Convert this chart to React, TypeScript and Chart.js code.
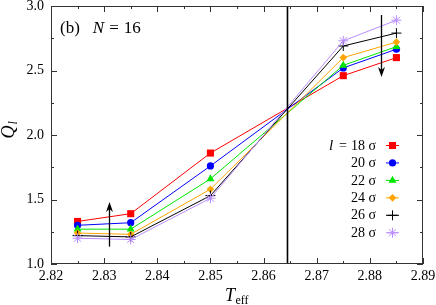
import React, { useEffect, useRef } from 'react';
import { Chart, registerables } from 'chart.js';
import { drawPoint } from 'chart.js/helpers';

Chart.register(...registerables);

// ---- data ----
const temperatures = [2.825, 2.835, 2.85, 2.875, 2.885];
const q18 = [1.33, 1.39, 1.86, 2.46, 2.60];
const q20 = [1.30, 1.32, 1.76, 2.52, 2.665];
const q22 = [1.27, 1.27, 1.66, 2.54, 2.685];
const q24 = [1.24, 1.23, 1.58, 2.60, 2.72];
const q26 = [1.22, 1.21, 1.53, 2.69, 2.79];
const q28 = [1.20, 1.19, 1.51, 2.73, 2.89];
const seriesValues = [q18, q20, q22, q24, q26, q28];
const seriesLabels = ['18 σ', '20 σ', '22 σ', '24 σ', '26 σ', '28 σ'];

const xMin = 2.82;
const xMax = 2.89;
const xStep = 0.005;
const yMin = 1.0;
const yMax = 3.0;
const yStep = 0.25;

const crossingT = 2.8645;
const arrowUp = { t: 2.831, from: 1.135, to: 1.48 };
const arrowDown = { t: 2.8821, from: 2.93, to: 2.45 };

// ---- styles ----
const seriesColors = ['#ff0000', '#0000ff', '#00e600', '#ffa500', '#000000', '#b98cff'];
const seriesPointStyles = ['rect', 'circle', 'triangle', 'rectRot', 'cross', 'star'];
const seriesPointRadius = [5, 3.6, 4.6, 3.8, 5, 5];
const SERIF = "'Liberation Serif', 'Times New Roman', Times, 'Nimbus Roman', serif";

const isMajor = (v: number, unit: number) => Math.abs(v / unit - Math.round(v / unit)) < 1e-6;

const decorPlugin = {
  id: 'decor',
  afterDatasetsDraw(chart: any) {
    const ctx = chart.ctx as CanvasRenderingContext2D;
    const { left, right, top, bottom } = chart.chartArea;
    const xs = chart.scales.x;
    const ys = chart.scales.y;
    ctx.save();

    // vertical line
    const vx = xs.getPixelForValue(crossingT);
    ctx.strokeStyle = '#000';
    ctx.lineWidth = 1.6;
    ctx.beginPath();
    ctx.moveTo(vx, top);
    ctx.lineTo(vx, bottom);
    ctx.stroke();

    // frame
    ctx.strokeStyle = '#333';
    ctx.lineWidth = 1;
    ctx.strokeRect(left + 0.5, top + 0.5, right - left - 1, bottom - top - 1);

    // ticks (inward, all four sides)
    ctx.beginPath();
    xs.ticks.forEach((t: any) => {
      const px = Math.round(xs.getPixelForValue(t.value)) + 0.5;
      const len = isMajor(t.value, 0.01) ? 6 : 3;
      ctx.moveTo(px, bottom);
      ctx.lineTo(px, bottom - len);
      ctx.moveTo(px, top);
      ctx.lineTo(px, top + len);
    });
    ys.ticks.forEach((t: any) => {
      const py = Math.round(ys.getPixelForValue(t.value)) + 0.5;
      const len = isMajor(t.value, 0.5) ? 6 : 3;
      ctx.moveTo(left, py);
      ctx.lineTo(left + len, py);
      ctx.moveTo(right, py);
      ctx.lineTo(right - len, py);
    });
    ctx.stroke();

    // arrows
    const drawArrow = (a: { t: number; from: number; to: number }) => {
      const ax = Math.round(xs.getPixelForValue(a.t)) + 0.5;
      const y0 = ys.getPixelForValue(a.from);
      const y1 = ys.getPixelForValue(a.to);
      const dir = y1 < y0 ? -1 : 1;
      ctx.strokeStyle = '#000';
      ctx.fillStyle = '#000';
      ctx.lineWidth = 1.3;
      ctx.beginPath();
      ctx.moveTo(ax, y0);
      ctx.lineTo(ax, y1 - dir * 6);
      ctx.stroke();
      ctx.beginPath();
      ctx.moveTo(ax, y1);
      ctx.lineTo(ax - 3.5, y1 - dir * 10);
      ctx.lineTo(ax, y1 - dir * 7);
      ctx.lineTo(ax + 3.5, y1 - dir * 10);
      ctx.closePath();
      ctx.fill();
    };
    drawArrow(arrowUp);
    drawArrow(arrowDown);

    // panel label
    ctx.fillStyle = '#000';
    ctx.textBaseline = 'alphabetic';
    ctx.textAlign = 'left';
    ctx.font = `17px ${SERIF}`;
    let tx = left + 9;
    const ty = top + 27;
    ctx.fillText('(b)', tx, ty);
    tx += ctx.measureText('(b)').width + 13;
    ctx.font = `italic 17px ${SERIF}`;
    ctx.fillText('N', tx, ty);
    tx += ctx.measureText('N').width + 5;
    ctx.font = `17px ${SERIF}`;
    ctx.fillText('=', tx, ty);
    tx += ctx.measureText('=').width + 5;
    ctx.fillText('16', tx, ty);

    // legend
    const textRight = right - 47;
    const lineL = right - 37;
    const lineR = right - 24;
    const row0 = top + 139;
    const rowH = 17.45;
    chart.data.datasets.forEach((ds: any, i: number) => {
      const y = row0 + i * rowH;
      ctx.font = `14px ${SERIF}`;
      ctx.fillStyle = '#000';
      ctx.textAlign = 'right';
      ctx.textBaseline = 'middle';
      ctx.fillText(seriesLabels[i], textRight, y + 1);
      if (i === 0) {
        const w = ctx.measureText(seriesLabels[i]).width;
        ctx.fillText('=', textRight - w - 4, y + 1);
        const we = ctx.measureText('=').width;
        ctx.font = `italic 15px ${SERIF}`;
        ctx.fillText('l', textRight - w - 4 - we - 6, y + 1);
      }
      ctx.strokeStyle = ds.borderColor;
      ctx.lineWidth = 1;
      ctx.beginPath();
      ctx.moveTo(lineL, y + 0.5);
      ctx.lineTo(lineR, y + 0.5);
      ctx.stroke();
      ctx.fillStyle = ds.pointBackgroundColor;
      ctx.strokeStyle = ds.pointBorderColor;
      drawPoint(ctx, {
        pointStyle: ds.pointStyle,
        radius: ds.pointRadius,
        borderWidth: ds.pointBorderWidth,
        rotation: 0,
      } as any, (lineL + lineR) / 2, y + 0.5);
    });

    // axis titles
    ctx.fillStyle = '#000';
    ctx.textBaseline = 'alphabetic';
    ctx.textAlign = 'left';
    const cx = (left + right) / 2;
    ctx.font = `italic 18px ${SERIF}`;
    const tw = ctx.measureText('T').width;
    ctx.fillText('T', cx - 12, bottom + 37);
    ctx.font = `12px ${SERIF}`;
    ctx.fillText('eff', cx - 12 + tw + 0.5, bottom + 40);

    ctx.save();
    const qy = (top + bottom) / 2 - 6;
    ctx.translate(left - 37, qy);
    ctx.rotate(-Math.PI / 2);
    ctx.font = `italic 18px ${SERIF}`;
    ctx.textAlign = 'left';
    const qw = ctx.measureText('Q').width;
    ctx.fillText('Q', -qw / 2 - 3, 0);
    ctx.font = `italic 12px ${SERIF}`;
    ctx.fillText('l', qw / 2 - 2, 3);
    ctx.restore();

    ctx.restore();
  },
};

export default function App() {
  const canvasRef = useRef<HTMLCanvasElement | null>(null);

  useEffect(() => {
    if (!canvasRef.current) return;
    const chart = new Chart(canvasRef.current, {
      type: 'line',
      data: {
        datasets: seriesValues.map((vals, i) => ({
          label: seriesLabels[i],
          data: temperatures.map((t, j) => ({ x: t, y: vals[j] })),
          borderColor: seriesColors[i],
          backgroundColor: seriesColors[i],
          pointBackgroundColor: seriesColors[i],
          pointBorderColor: seriesColors[i],
          pointStyle: seriesPointStyles[i] as any,
          pointRadius: seriesPointRadius[i],
          pointBorderWidth: seriesPointStyles[i] === 'cross' || seriesPointStyles[i] === 'star' ? 1 : 0,
          borderWidth: 1,
          tension: 0,
          fill: false,
          order: seriesValues.length - i,
        })),
      },
      options: {
        animation: false,
        responsive: false,
        maintainAspectRatio: false,
        events: [],
        layout: { padding: { top: 5, right: 13, left: 0, bottom: 0 } },
        plugins: {
          legend: { display: false },
          tooltip: { enabled: false },
          title: { display: false },
        },
        scales: {
          x: {
            type: 'linear',
            min: xMin,
            max: xMax,
            grid: { display: false, drawTicks: false },
            border: { display: false },
            ticks: {
              stepSize: xStep,
              autoSkip: false,
              maxRotation: 0,
              padding: 4,
              color: '#000',
              font: { family: SERIF, size: 14 },
              callback: (v: any) => (isMajor(Number(v), 0.01) ? Number(v).toFixed(2) : ''),
            },
            afterFit: (s: any) => {
              s.height = 41;
              s.paddingLeft = 0;
              s.paddingRight = 0;
              s.paddingTop = 0;
              s.paddingBottom = 0;
            },
          },
          y: {
            type: 'linear',
            min: yMin,
            max: yMax,
            grid: { display: false, drawTicks: false },
            border: { display: false },
            ticks: {
              stepSize: yStep,
              autoSkip: false,
              padding: 7,
              color: '#000',
              font: { family: SERIF, size: 14 },
              callback: (v: any) => (isMajor(Number(v), 0.5) ? Number(v).toFixed(1) : ''),
            },
            afterFit: (s: any) => {
              s.width = 51;
              s.paddingLeft = 0;
              s.paddingRight = 0;
              s.paddingTop = 0;
              s.paddingBottom = 0;
            },
          },
        },
      },
      plugins: [decorPlugin],
    });
    return () => chart.destroy();
  }, []);

  return (
    <div style={{ position: 'absolute', left: 0, top: 0, width: 436, height: 305, background: '#fff' }}>
      <canvas ref={canvasRef} width={436} height={305} style={{ display: 'block', width: 436, height: 305 }} />
    </div>
  );
}
